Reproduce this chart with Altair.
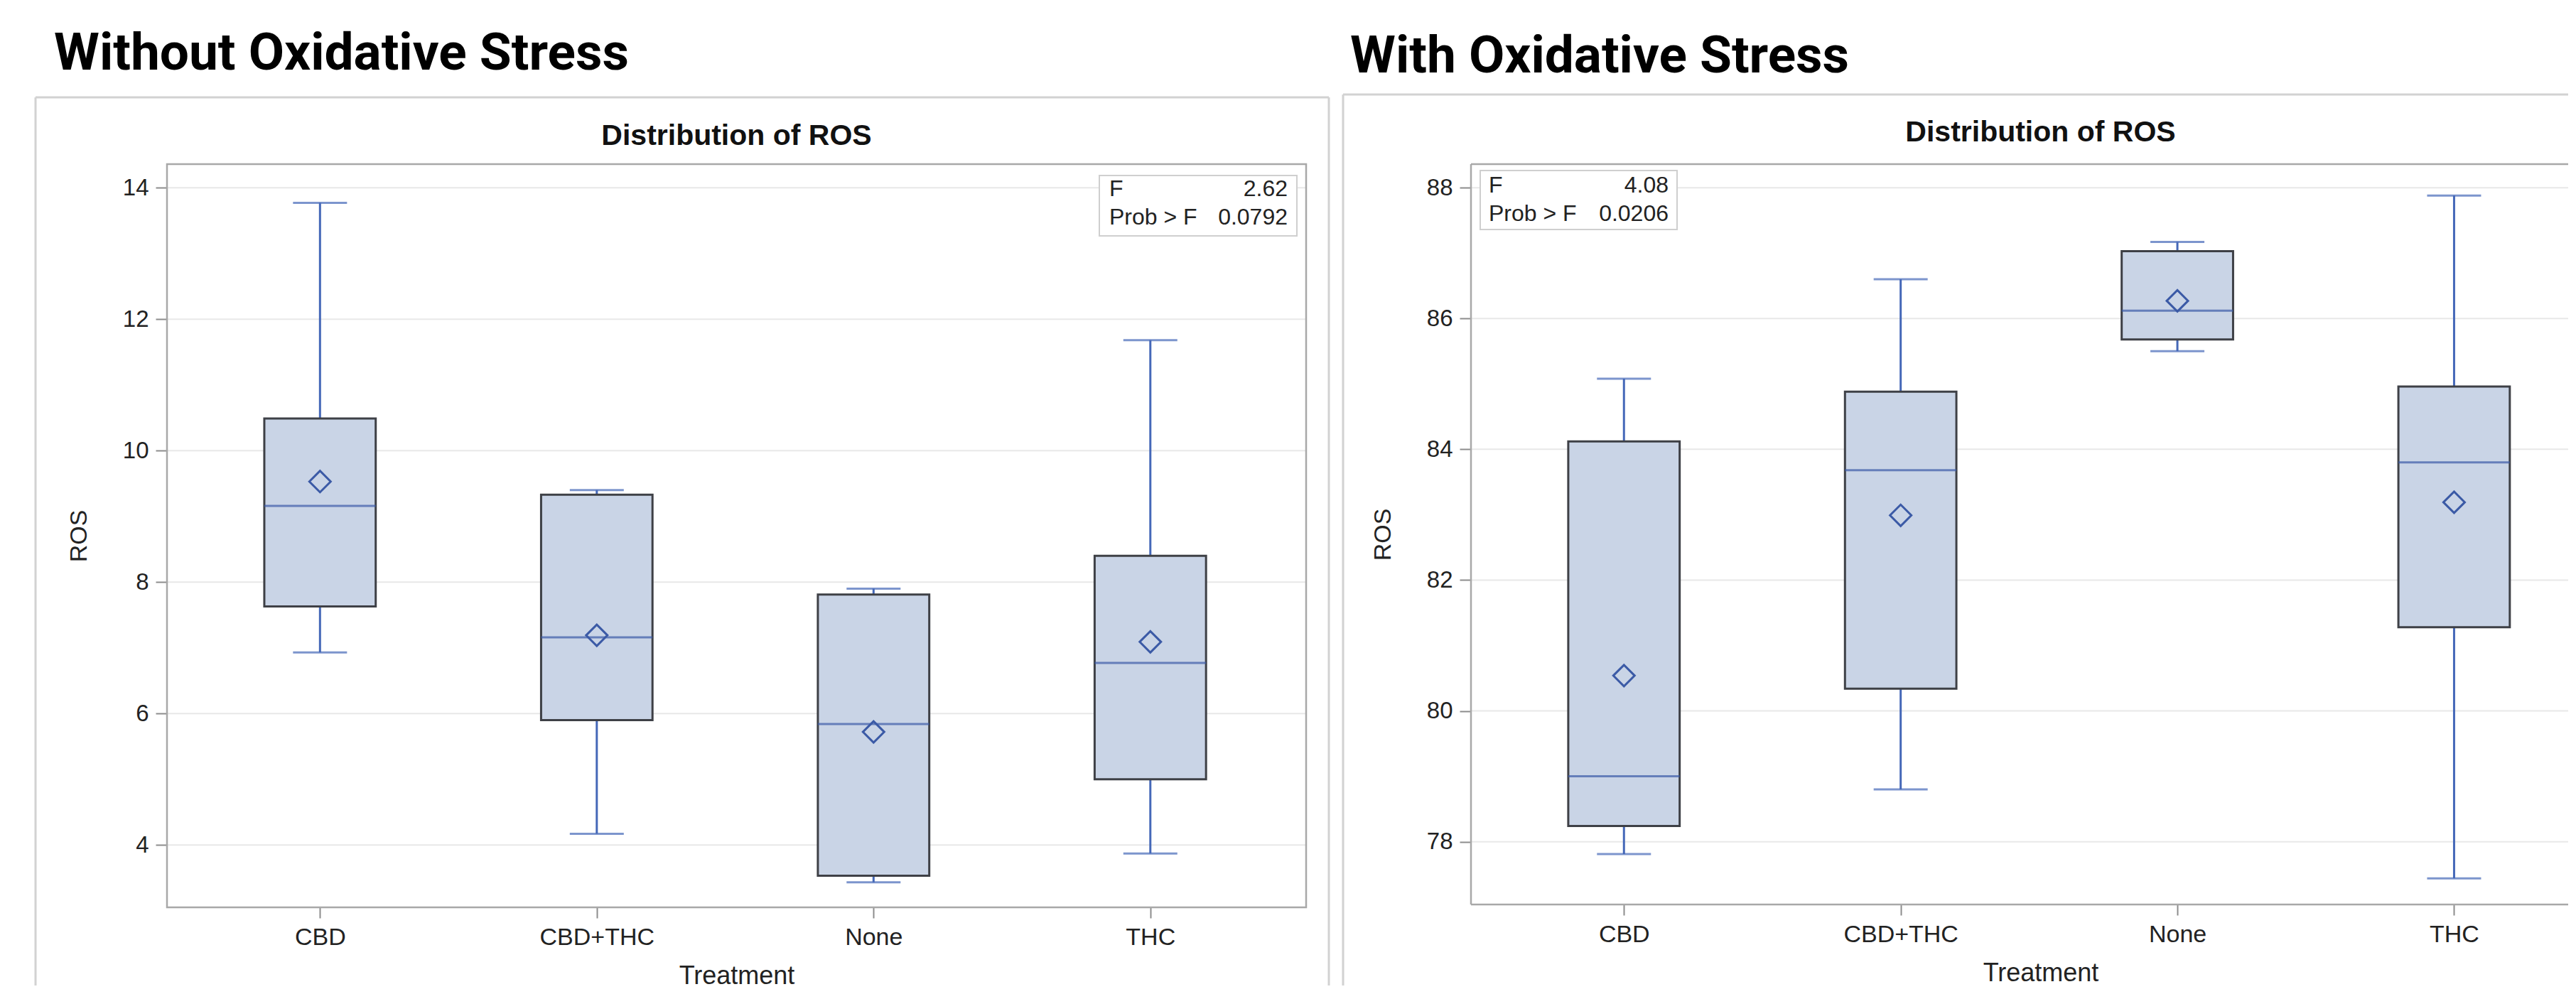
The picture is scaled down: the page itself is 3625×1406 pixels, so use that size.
import json
import altair as alt
import pandas as pd

# ---------------- data ----------------
treatments = ["CBD", "CBD+THC", "None", "THC"]

# Without oxidative stress
wo_whisker_low = [6.93, 4.17, 3.43, 3.87]
wo_q1 = [7.63, 5.90, 3.53, 5.00]
wo_median = [9.16, 7.16, 5.84, 6.77]
wo_q3 = [10.49, 9.33, 7.81, 8.40]
wo_whisker_high = [13.77, 9.40, 7.90, 11.68]
wo_mean = [9.53, 7.19, 5.72, 7.09]
wo_F = "2.62"
wo_prob = "0.0792"
wo_ticks = [4, 6, 8, 10, 12, 14]

# With oxidative stress
w_whisker_low = [77.81, 78.80, 85.50, 77.44]
w_q1 = [78.24, 80.34, 85.68, 81.28]
w_median = [79.00, 83.68, 86.12, 83.80]
w_q3 = [84.12, 84.88, 87.03, 84.96]
w_whisker_high = [85.08, 86.60, 87.17, 87.88]
w_mean = [80.54, 82.99, 86.27, 83.19]
w_F = "4.08"
w_prob = "0.0206"
w_ticks = [78, 80, 82, 84, 86, 88]

headings = ["Without Oxidative Stress", "With Oxidative Stress"]
plot_title = "Distribution of ROS"

# ---------------- styling ----------------
BOX_FILL = "#C9D4E6"
BOX_EDGE = "#3E4046"
BLUE = "#4568B8"
DARKBLUE = "#3B5AA6"
GRID = "#E8E8E8"
FRAME = "#A8A8A8"
OUTER = "#D2D2D2"
TEXT = "#222222"
AXFONT = "Liberation Sans"

PLOT_W = 1603          # full plot width of a panel (right one is cut by the page edge)
RIGHT_W = 1544         # visible part of the right panel
X_LO = -0.54           # category axis domain start (categories at 0..3)
X_HI = 3.55            # category axis domain end for the full plot width
PX_PER_CAT = PLOT_W / (X_HI - X_LO)
BAND = PX_PER_CAT * 0.4
CAP = 76

LABEL_EXPR = json.dumps(treatments) + "[datum.value]"


def one(**kw):
    return alt.Data(values=[kw])


def panel(heading, lo, q1, med, q3, hi, mean, fval, pval, ydom, yticks,
          vis_w, h, head_x, head_y, sub_y, inset, frame, cut):
    df = pd.DataFrame({"Treatment": treatments,
                       "pos": list(range(len(treatments))),
                       "lo": lo, "q1": q1, "med": med, "q3": q3,
                       "hi": hi, "mean": mean})
    base = alt.Chart(df)

    x_hi = X_LO + vis_w / PX_PER_CAT
    xscale = alt.Scale(domain=[X_LO, x_hi], nice=False, zero=False)
    xaxis = alt.Axis(values=list(range(len(treatments))), labelExpr=LABEL_EXPR,
                     labelAngle=0, labelFont=AXFONT, labelFontSize=34,
                     labelColor=TEXT, labelPadding=10, tickSize=15,
                     tickColor="#8C8C8C", tickWidth=2, domain=False,
                     grid=False, title="Treatment", titleFont=AXFONT,
                     titleFontSize=36, titleFontWeight="normal",
                     titleColor=TEXT, titlePadding=20, titleX=PLOT_W / 2,
                     labelFlush=False, labelOverlap=False)
    X = alt.X("pos:Q", scale=xscale, axis=xaxis, title="Treatment")
    yscale = alt.Scale(domain=ydom, nice=False, zero=False)
    yaxis = alt.Axis(values=yticks, labelFont=AXFONT, labelFontSize=33,
                     labelColor=TEXT, labelPadding=10, tickSize=16,
                     tickColor="#8C8C8C", tickWidth=2, domain=False,
                     grid=False, title="ROS", titleFont=AXFONT,
                     titleFontSize=34, titleFontWeight="normal",
                     titleColor=TEXT, titlePadding=44, labelFlush=False)

    def Y(f):
        return alt.Y(f + ":Q", scale=yscale, axis=yaxis, title="ROS")

    fl, ft, fr, fb = frame
    layers = []
    # outer panel frame
    layers.append(alt.Chart(one(a=0)).mark_rule(color=OUTER, strokeWidth=3).encode(
        x=alt.value(fl), y=alt.value(ft), y2=alt.value(fb)))
    layers.append(alt.Chart(one(a=0)).mark_rule(color=OUTER, strokeWidth=3).encode(
        x=alt.value(fl), x2=alt.value(fr), y=alt.value(ft)))
    if not cut:
        layers.append(alt.Chart(one(a=0)).mark_rule(color=OUTER, strokeWidth=3).encode(
            x=alt.value(fr), y=alt.value(ft), y2=alt.value(fb)))
    # heading
    layers.append(alt.Chart(one(t=heading)).mark_text(
        align="left", baseline="alphabetic", font="Roboto", fontSize=73,
        fontWeight="bold", color="#000000").encode(
        x=alt.value(head_x), y=alt.value(head_y), text="t:N"))
    # plot title
    layers.append(alt.Chart(one(t=plot_title)).mark_text(
        align="center", baseline="alphabetic", font=AXFONT, fontSize=41,
        fontWeight="bold", color="#111111").encode(
        x=alt.value(PLOT_W / 2), y=alt.value(sub_y), text="t:N"))
    # horizontal grid lines at the tick values
    grid_df = pd.DataFrame({"v": yticks})
    layers.append(alt.Chart(grid_df).mark_rule(color=GRID, strokeWidth=2).encode(
        y=Y("v"), x=alt.value(0), x2=alt.value(vis_w)))
    # plot frame
    if not cut:
        layers.append(alt.Chart(one(a=0)).mark_rect(
            fillOpacity=0, stroke=FRAME, strokeWidth=2.5).encode(
            x=alt.value(0), x2=alt.value(vis_w), y=alt.value(0), y2=alt.value(h)))
    else:
        layers.append(alt.Chart(one(a=0)).mark_rule(color=FRAME, strokeWidth=2.5).encode(
            x=alt.value(0), x2=alt.value(vis_w), y=alt.value(0)))
        layers.append(alt.Chart(one(a=0)).mark_rule(color=FRAME, strokeWidth=2.5).encode(
            x=alt.value(0), x2=alt.value(vis_w), y=alt.value(h)))
        layers.append(alt.Chart(one(a=0)).mark_rule(color=FRAME, strokeWidth=2.5).encode(
            x=alt.value(0), y=alt.value(0), y2=alt.value(h)))
    # whiskers
    layers.append(base.mark_rule(color=BLUE, strokeWidth=3).encode(
        x=X, y=Y("lo"), y2="hi:Q"))
    # caps
    layers.append(base.mark_tick(color=BLUE, thickness=3, size=CAP,
                                 orient="horizontal").encode(x=X, y=Y("lo")))
    layers.append(base.mark_tick(color=BLUE, thickness=3, size=CAP,
                                 orient="horizontal").encode(x=X, y=Y("hi")))
    # boxes
    layers.append(base.mark_bar(fill=BOX_FILL, stroke=BOX_EDGE, strokeWidth=3,
                                width=BAND).encode(x=X, y=Y("q1"), y2="q3:Q"))
    # median
    layers.append(base.mark_tick(color=DARKBLUE, thickness=3, size=BAND,
                                 orient="horizontal").encode(x=X, y=Y("med")))
    # mean
    layers.append(base.mark_point(shape="diamond", filled=False, color=DARKBLUE,
                                  strokeWidth=3, size=900, opacity=1).encode(
        x=X, y=Y("mean")))
    # inset statistics box
    ix0, iy0, ix1, iy1, tl, tr, b1, b2 = inset
    layers.append(alt.Chart(one(a=0)).mark_rect(
        fill="#FFFFFF", stroke="#CFCFCF", strokeWidth=2).encode(
        x=alt.value(ix0), x2=alt.value(ix1), y=alt.value(iy0), y2=alt.value(iy1)))
    stat = one(l1="F", r1=fval, l2="Prob > F", r2=pval)
    tstyle = dict(font=AXFONT, fontSize=32, color=TEXT, baseline="alphabetic")
    layers.append(alt.Chart(stat).mark_text(align="left", **tstyle).encode(
        x=alt.value(tl), y=alt.value(b1), text="l1:N"))
    layers.append(alt.Chart(stat).mark_text(align="right", **tstyle).encode(
        x=alt.value(tr), y=alt.value(b1), text="r1:N"))
    layers.append(alt.Chart(stat).mark_text(align="left", **tstyle).encode(
        x=alt.value(tl), y=alt.value(b2), text="l2:N"))
    layers.append(alt.Chart(stat).mark_text(align="right", **tstyle).encode(
        x=alt.value(tr), y=alt.value(b2), text="r2:N"))

    return alt.layer(*layers).properties(width=vis_w, height=h)


left = panel(headings[0], wo_whisker_low, wo_q1, wo_median, wo_q3, wo_whisker_high,
             wo_mean, wo_F, wo_prob, [3.05, 14.36], wo_ticks,
             vis_w=PLOT_W, h=1046, head_x=-159, head_y=-133, sub_y=-27,
             inset=(1312, 16, 1590, 101, 1326, 1577, 45, 85),
             frame=(-185, -94, 1635, 1156), cut=False)

right = panel(headings[1], w_whisker_low, w_q1, w_median, w_q3, w_whisker_high,
              w_mean, w_F, w_prob, [77.04, 88.36], w_ticks,
              vis_w=RIGHT_W, h=1042, head_x=-170, head_y=-129, sub_y=-32,
              inset=(13, 9, 290, 92, 25, 278, 40, 80),
              frame=(-180, -98, RIGHT_W, 1156), cut=True)

chart = alt.hconcat(left, right, spacing=232, bounds="flush").properties(
    padding={"left": 40, "top": 32, "right": 0, "bottom": 0},
    background="#FFFFFF",
).configure_view(stroke=None)

chart.save("out.html", embed_options={"renderer": "svg", "actions": False})
